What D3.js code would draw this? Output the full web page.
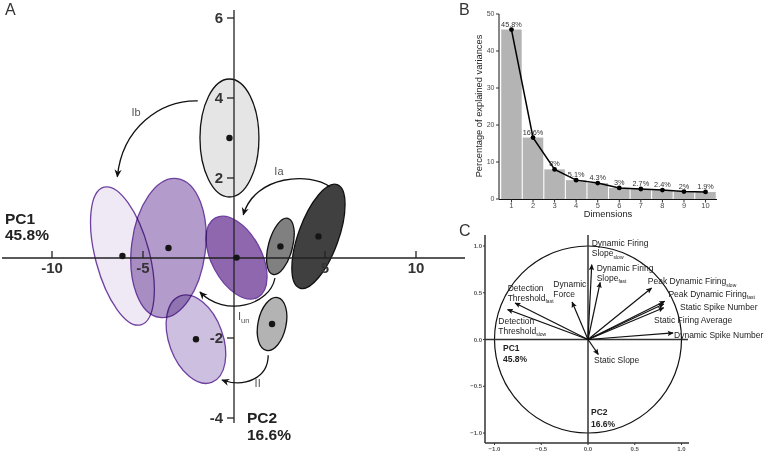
<!DOCTYPE html>
<html><head><meta charset="utf-8">
<script src="https://cdn.jsdelivr.net/npm/d3@7"></script>
<style>
body{margin:0;background:#fff}
svg{display:block;font-family:"Liberation Sans",Arial,Helvetica,sans-serif}
</style>
</head><body>
<svg id="chart" width="767" height="453"></svg>
<script>
// ---------------- DATA ----------------
// Panel A: group ellipses (PC1, PC2 coordinates)
const groupIds      = ["g1","g2","g3","g4","g5","g6","g7","g8"];
const groupPC1      = [-6.13, -3.60, -2.09, 0.14, -0.25, 2.55, 4.64, 2.09];
const groupPC2      = [ 0.05,  0.25, -2.03, 0.01,  3.00, 0.29, 0.54, -1.65];
const groupSpreadX  = [ 1.48,  2.03,  1.48, 1.37,  1.62, 0.66, 1.10, 0.77];
const groupSpreadY  = [ 1.78,  1.75,  1.15, 1.125, 1.475, 0.725, 1.375, 0.675];
const groupTilt     = [ -15,   7,    -20,  -28,    0,    15,   20,   12];
// Transition arrows (PC1/PC2 bezier points: start, c1, c2, end)
const transitionNames = ["Ib","Ia","Iun","II"];
const transitionPts = [
  [[-1.99,3.93],[-4.07,3.95],[-6.15,3.25],[-6.41,2.03]],
  [[5.27,1.78],[4.18,2.15],[1.15,2.08],[0.51,1.08]],
  [[2.25,-0.50],[1.98,-1.18],[-0.49,-1.50],[-1.87,-0.85]],
  [[1.88,-2.43],[1.87,-3.00],[0.60,-3.25],[-0.66,-3.05]]
];
const xTicksA = [-10,-5,5,10];
const yTicksA = [-4,-2,2,4,6];

// Panel B: scree plot
const dimensions = ["1","2","3","4","5","6","7","8","9","10"];
const explainedVar = [45.8,16.6,8,5.1,4.3,3,2.7,2.4,2,1.9];
const explainedLabels = ["45.8%","16.6%","8%","5.1%","4.3%","3%","2.7%","2.4%","2%","1.9%"];
const yTicksB = [0,10,20,30,40,50];

// Panel C: variable loadings
const varIds   = ["dfsSlow","dfsFast","pdfSlow","pdfFast","ssn","sfa","dsn","ss","df","dtFast","dtSlow"];
const loadPC1  = [0.04, 0.13, 0.68, 0.82, 0.81, 0.81, 0.91, 0.11, -0.17, -0.78, -0.86];
const loadPC2  = [0.80, 0.61, 0.55, 0.41, 0.38, 0.34, 0.07, -0.16, 0.40, 0.39, 0.32];
const varLabelLines = [
  [["Dynamic Firing",""],["Slope","slow"]],
  [["Dynamic Firing",""],["Slope","fast"]],
  [["Peak Dynamic Firing","slow"]],
  [["Peak Dynamic Firing","fast"]],
  [["Static Spike Number",""]],
  [["Static Firing Average",""]],
  [["Dynamic Spike Number",""]],
  [["Static Slope",""]],
  [["Dynamic",""],["Force",""]],
  [["Detection",""],["Threshold","fast"]],
  [["Detection",""],["Threshold","slow"]]
];
const ticksC = [-1,-0.5,0,0.5,1];
const ticksCLabels = ["\u22121.0","\u22120.5","0.0","0.5","1.0"];

// ---------------- LAYOUT / STYLE ----------------
const groupFill = ["#efe8f5","#b39bcb","#cdbfe0","#8f67ae","#e5e5e5","#808080","#404040","#b3b3b3"];
const groupStroke = ["#6e40a0","#6e40a0","#6e40a0","#6e40a0","#111","#111","#111","#111"];
const groupBlend = [true,true,true,true,false,false,false,false];
const drawOrder = [0,1,2,3,4,5,6,7];
// label anchors for panel C (PC1/PC2 units)
const varLabelPos = [[0.04,1.0],[0.093,0.736],[0.64,0.59],[0.86,0.458],[0.984,0.316],[0.706,0.173],[0.92,0.013],[0.064,-0.255],[-0.371,0.565],[-0.859,0.522],[-0.959,0.166]];
const transLabelPos = [[-5.38,3.55],[2.47,2.08],[0.22,-1.55],[1.3,-3.22]];
const transLabelAnchor = ["middle","middle","start","middle"];

const svg = d3.select("#chart");
const defs = svg.append("defs");
defs.append("marker").attr("id","ahA").attr("viewBox","0 0 10 10").attr("refX",9).attr("refY",5)
  .attr("markerWidth",8).attr("markerHeight",8).attr("markerUnits","userSpaceOnUse").attr("orient","auto")
  .append("path").attr("d","M0,0.5 L10,5 L0,9.5 L3,5 Z").attr("fill","#111");
defs.append("marker").attr("id","ahC").attr("viewBox","0 0 10 10").attr("refX",9).attr("refY",5)
  .attr("markerWidth",6).attr("markerHeight",6).attr("markerUnits","userSpaceOnUse").attr("orient","auto")
  .append("path").attr("d","M0,0.5 L10,5 L0,9.5 L2,5 Z").attr("fill","#111");

// ---------------- PANEL A ----------------
const xA = d3.scaleLinear().domain([-10,10]).range([52,416]);
const yA = d3.scaleLinear().domain([-4,6]).range([418,18]);
const gA = svg.append("g");
gA.append("text").attr("x",5).attr("y",15).attr("font-size",16).attr("fill","#333").text("A");

const ellData = drawOrder.map(i=>({i, cx:groupPC1[i], cy:groupPC2[i], rx:groupSpreadX[i], ry:groupSpreadY[i], a:groupTilt[i]}));
gA.append("g").selectAll("ellipse").data(ellData).join("ellipse")
  .attr("transform", d=>`translate(${xA(d.cx)},${yA(d.cy)}) rotate(${d.a})`)
  .attr("rx", d=>xA(d.rx)-xA(0)).attr("ry", d=>yA(0)-yA(d.ry))
  .attr("fill", d=>groupFill[d.i]).attr("stroke", d=>groupStroke[d.i]).attr("stroke-width",1.3)
  .style("mix-blend-mode", d=>groupBlend[d.i]?"multiply":"normal");

// axes
const axA = gA.append("g").attr("stroke","#222").attr("stroke-width",1.3);
axA.append("line").attr("x1",2).attr("x2",465).attr("y1",yA(0)).attr("y2",yA(0));
axA.append("line").attr("x1",xA(0)).attr("x2",xA(0)).attr("y1",10).attr("y2",423);
axA.selectAll(".tx").data(xTicksA).join("line").attr("x1",d=>xA(d)).attr("x2",d=>xA(d)).attr("y1",yA(0)-7).attr("y2",yA(0));
axA.selectAll(".ty").data(yTicksA).join("line").attr("y1",d=>yA(d)).attr("y2",d=>yA(d)).attr("x1",xA(0)-7).attr("x2",xA(0));
gA.selectAll(".txl").data(xTicksA).join("text").attr("x",d=>xA(d)).attr("y",yA(0)+15)
  .attr("text-anchor","middle").attr("font-size",15).attr("font-weight","bold").attr("fill","#333").text(d=>d);
gA.selectAll(".tyl").data(yTicksA).join("text").attr("x",xA(0)-11).attr("y",d=>yA(d)).attr("dy","0.36em")
  .attr("text-anchor","end").attr("font-size",15).attr("font-weight","bold").attr("fill","#333").text(d=>d);

// dots
gA.append("g").selectAll("circle").data(groupIds).join("circle")
  .attr("cx",(d,i)=>xA(groupPC1[i])).attr("cy",(d,i)=>yA(groupPC2[i])).attr("r",3.2).attr("fill","#151515");

// transition arrows
gA.append("g").selectAll("path").data(transitionPts).join("path")
  .attr("d", p=>{const q=d3.path(); q.moveTo(xA(p[0][0]),yA(p[0][1]));
    q.bezierCurveTo(xA(p[1][0]),yA(p[1][1]),xA(p[2][0]),yA(p[2][1]),xA(p[3][0]),yA(p[3][1])); return q.toString();})
  .attr("fill","none").attr("stroke","#111").attr("stroke-width",1.3).attr("marker-end","url(#ahA)");
const tl = gA.append("g").attr("font-size",11).attr("fill","#555");
transitionNames.forEach((n,i)=>{
  const t = tl.append("text").attr("x",xA(transLabelPos[i][0])).attr("y",yA(transLabelPos[i][1])).attr("text-anchor",transLabelAnchor[i]);
  if(n==="Iun"){ t.append("tspan").text("I"); t.append("tspan").attr("font-size",7.5).attr("dy",3).text("un"); }
  else t.text(n);
});
// axis titles
const at = gA.append("g").attr("font-size",15.5).attr("font-weight","bold").attr("fill","#222");
at.append("text").attr("x",5).attr("y",224).text("PC1");
at.append("text").attr("x",5).attr("y",240).text("45.8%");
at.append("text").attr("x",247).attr("y",423).text("PC2");
at.append("text").attr("x",247).attr("y",440).text("16.6%");

// ---------------- PANEL B ----------------
const xB = d3.scaleBand().domain(dimensions).range([501,716]).paddingInner(0.05).paddingOuter(0.01);
const yB = d3.scaleLinear().domain([0,50]).range([199,14]);
const gB = svg.append("g");
gB.append("text").attr("x",459).attr("y",15).attr("font-size",16).attr("fill","#333").text("B");
gB.selectAll("rect").data(dimensions).join("rect")
  .attr("x",d=>xB(d)).attr("width",xB.bandwidth()).attr("y",(d,i)=>yB(explainedVar[i]))
  .attr("height",(d,i)=>yB(0)-yB(explainedVar[i])).attr("fill","#b4b4b4");
gB.append("line").attr("x1",499).attr("x2",499).attr("y1",yB(50)).attr("y2",yB(0)).attr("stroke","#111").attr("stroke-width",1);
gB.append("line").attr("x1",499).attr("x2",717).attr("y1",yB(0)+0.5).attr("y2",yB(0)+0.5).attr("stroke","#111").attr("stroke-width",1);
gB.selectAll(".ytb").data(yTicksB).join("line").attr("x1",496).attr("x2",499).attr("y1",d=>yB(d)).attr("y2",d=>yB(d)).attr("stroke","#333");
gB.selectAll(".ytl").data(yTicksB).join("text").attr("x",494.5).attr("y",d=>yB(d)).attr("dy","0.35em")
  .attr("text-anchor","end").attr("font-size",7).attr("fill","#4d4d4d").text(d=>d);
gB.selectAll(".xtb").data(dimensions).join("line").attr("x1",d=>xB(d)+xB.bandwidth()/2).attr("x2",d=>xB(d)+xB.bandwidth()/2)
  .attr("y1",yB(0)+0.5).attr("y2",yB(0)+3.5).attr("stroke","#333");
gB.selectAll(".xtl").data(dimensions).join("text").attr("x",d=>xB(d)+xB.bandwidth()/2).attr("y",207.5)
  .attr("text-anchor","middle").attr("font-size",7.5).attr("fill","#4d4d4d").text(d=>d);
gB.append("text").attr("x",608).attr("y",216.5).attr("text-anchor","middle").attr("font-size",9.3).attr("fill","#222").text("Dimensions");
gB.append("text").attr("transform","translate(482,106) rotate(-90)").attr("text-anchor","middle")
  .attr("font-size",9.3).attr("fill","#222").text("Percentage of explained variances");
const lineB = d3.line().x((d,i)=>xB(dimensions[i])+xB.bandwidth()/2).y(d=>yB(d));
gB.append("path").attr("d",lineB(explainedVar)).attr("fill","none").attr("stroke","#000").attr("stroke-width",1.5);
gB.selectAll(".pt").data(explainedVar).join("circle").attr("cx",(d,i)=>xB(dimensions[i])+xB.bandwidth()/2)
  .attr("cy",d=>yB(d)).attr("r",2.4).attr("fill","#000");
gB.selectAll(".vl").data(explainedLabels).join("text").attr("x",(d,i)=>xB(dimensions[i])+xB.bandwidth()/2)
  .attr("y",(d,i)=>yB(explainedVar[i])-3).attr("text-anchor","middle").attr("font-size",7.3).attr("fill","#333").text(d=>d);

// ---------------- PANEL C ----------------
const xC = d3.scaleLinear().domain([-1,1]).range([494.5,681.5]);
const yC = d3.scaleLinear().domain([-1,1]).range([433,246]);
const gC = svg.append("g");
gC.append("text").attr("x",459).attr("y",236).attr("font-size",16).attr("fill","#333").text("C");
gC.append("ellipse").attr("cx",xC(0)).attr("cy",yC(0)).attr("rx",xC(1)-xC(0)).attr("ry",yC(0)-yC(1))
  .attr("fill","none").attr("stroke","#111").attr("stroke-width",1.2);
const frame = gC.append("g").attr("stroke","#333").attr("stroke-width",1.5);
frame.append("line").attr("x1",485).attr("x2",485).attr("y1",235).attr("y2",443);
frame.append("line").attr("x1",485).attr("x2",689).attr("y1",443).attr("y2",443);
frame.append("line").attr("x1",485).attr("x2",688).attr("y1",yC(0)).attr("y2",yC(0));
frame.append("line").attr("x1",xC(0)).attr("x2",xC(0)).attr("y1",235).attr("y2",443);
gC.selectAll(".cyt").data(ticksC).join("line").attr("x1",483).attr("x2",485).attr("y1",d=>yC(d)).attr("y2",d=>yC(d)).attr("stroke","#333");
gC.selectAll(".cxt").data(ticksC).join("line").attr("x1",d=>xC(d)).attr("x2",d=>xC(d)).attr("y1",443).attr("y2",445).attr("stroke","#333");
gC.selectAll(".cyl").data(ticksC).join("text").attr("x",482).attr("y",d=>yC(d)).attr("dy","0.35em")
  .attr("text-anchor","end").attr("font-size",6).attr("font-weight","bold").attr("fill","#555").text((d,i)=>ticksCLabels[i]);
gC.selectAll(".cxl").data(ticksC).join("text").attr("x",d=>xC(d)).attr("y",451)
  .attr("text-anchor","middle").attr("font-size",6).attr("font-weight","bold").attr("fill","#555").text((d,i)=>ticksCLabels[i]);
gC.append("g").selectAll("line").data(varIds).join("line")
  .attr("x1",xC(0)).attr("y1",yC(0)).attr("x2",(d,i)=>xC(loadPC1[i])).attr("y2",(d,i)=>yC(loadPC2[i]))
  .attr("stroke","#111").attr("stroke-width",1.2).attr("marker-end","url(#ahC)");
const vl = gC.append("g").attr("font-size",8.5).attr("fill","#222");
varIds.forEach((id,i)=>{
  varLabelLines[i].forEach((ln,k)=>{
    const t = vl.append("text").attr("x",xC(varLabelPos[i][0])).attr("y",yC(varLabelPos[i][1])+k*10);
    t.append("tspan").text(ln[0]);
    if(ln[1]) t.append("tspan").attr("font-size",5).attr("dy",2.5).text(ln[1]);
  });
});
const ct = gC.append("g").attr("font-size",8.5).attr("font-weight","bold").attr("fill","#222");
ct.append("text").attr("x",503).attr("y",351).text("PC1");
ct.append("text").attr("x",503).attr("y",362).text("45.8%");
ct.append("text").attr("x",591).attr("y",415).text("PC2");
ct.append("text").attr("x",591).attr("y",427).text("16.6%");
</script>
</body></html>
